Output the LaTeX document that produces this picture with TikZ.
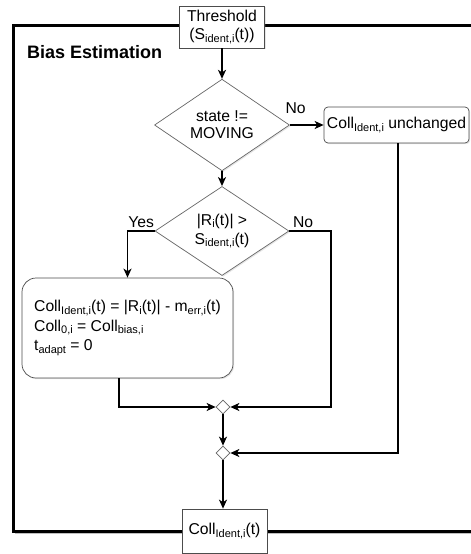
\documentclass[tikz,border=0pt]{standalone}
\usepackage{fontspec}
\setmainfont{Liberation Sans}
\usepackage{tikz}
\usetikzlibrary{arrows.meta,shapes.geometric,shadows,positioning}
\newcommand{\sbx}[1]{\raisebox{-0.32ex}{\fontsize{11}{11}\selectfont #1}}
\tikzset{
  >={Stealth[length=9pt,width=8pt,inset=2.5pt]},
  boks/.style={rectangle, draw=black!70, fill=white, line width=0.7pt, align=center,
               inner sep=0pt, drop shadow={opacity=0.2,shadow xshift=1.2pt,shadow yshift=-1.2pt}},
  beslut/.style={diamond, draw=black!60, fill=white, line width=0.7pt, align=center,
                 inner sep=0pt, drop shadow={opacity=0.2,shadow xshift=1.2pt,shadow yshift=-1.2pt}},
  knute/.style={diamond, draw=black!60, fill=white, line width=0.7pt, minimum size=14pt,
                inner sep=0pt},
  line/.style={draw, line width=1.5pt, ->},
  etikett/.style={inner sep=2pt}
}

\begin{document}
\begin{tikzpicture}[x=1pt,y=-1pt,font=\fontsize{15.7}{18}\selectfont]
      \useasboundingbox (0,0) rectangle (471,554);
      \clip (0,0) rectangle (471,554);

      % Outer frame with its shadow.
      \draw[black!25,line width=2.5pt] (15,532.8) -- (480,532.8);
      \draw[line width=3pt] (480,25) -- (13,25) -- (13,531) -- (480,531);

      % Boxes and decisions.
      \node[boks, minimum width=85pt, minimum height=42pt] (thr) at (222,27)
      {Threshold\\(S\sbx{ident,i}(t))};
      \node[anchor=west, inner sep=0pt, font=\bfseries\fontsize{18}{20}\selectfont] (titel)
      at (27,52) {Bias Estimation};
      \node[beslut, minimum width=135pt, minimum height=82pt, font=\fontsize{15.7}{17}\selectfont]
      (d1) at (222,125) {state !=\\MOVING};
      \node[boks, rounded corners=4pt, minimum width=145pt, minimum height=36pt] (uendret)
      at (396.5,125) {Coll\sbx{Ident,i} unchanged};
      \node[beslut, minimum width=134pt, minimum height=77pt, font=\fontsize{15.7}{19}\selectfont]
      (d2) at (222,231) {|R\sbx{i}(t)| >\\S\sbx{ident,i}(t)};
      \node[boks, rounded corners=14pt, minimum width=211pt, minimum height=100pt,
            align=left, font=\fontsize{15.7}{19.5}\selectfont] (oppd) at (127.5,328)
      {Coll\sbx{Ident,i}(t) = |R\sbx{i}(t)| - m\sbx{err,i}(t)\\
       Coll\sbx{0,i} = Coll\sbx{bias,i}\\
       t\sbx{adapt} = 0};

      % Merge points and output.
      \node[knute] (m1) at (223,407) {};
      \node[knute] (m2) at (223,453) {};
      \node[boks, minimum width=85pt, minimum height=44pt] (ut) at (224.5,531)
      {Coll\sbx{Ident,i}(t)};
      \coordinate (hk) at (331,231);

      % Connectors.
      \draw[line] (thr) -- (d1);
      \draw[line] (d1.east) -- node[etikett, pos=0.17, above=9pt] {No} (uendret.west);
      \draw[line] (d1) -- (d2);
      \draw[line] (d2.west) -| node[etikett, pos=0.25, above=1pt] {Yes} (oppd.north);
      \draw[line] (d2.east) -- node[etikett, pos=0.33, above=1pt] {No} (hk) |- (m1.east);
      \draw[line] ([xshift=-8.5pt]oppd.south) |- (m1.west);
      \draw[line] (m1) -- (m2);
      \draw[line] ([xshift=1.5pt]uendret.south) |- (m2.east);
      \draw[line] (m2.south) -- (m2.south |- ut.north);

    \end{tikzpicture}
\end{document}
